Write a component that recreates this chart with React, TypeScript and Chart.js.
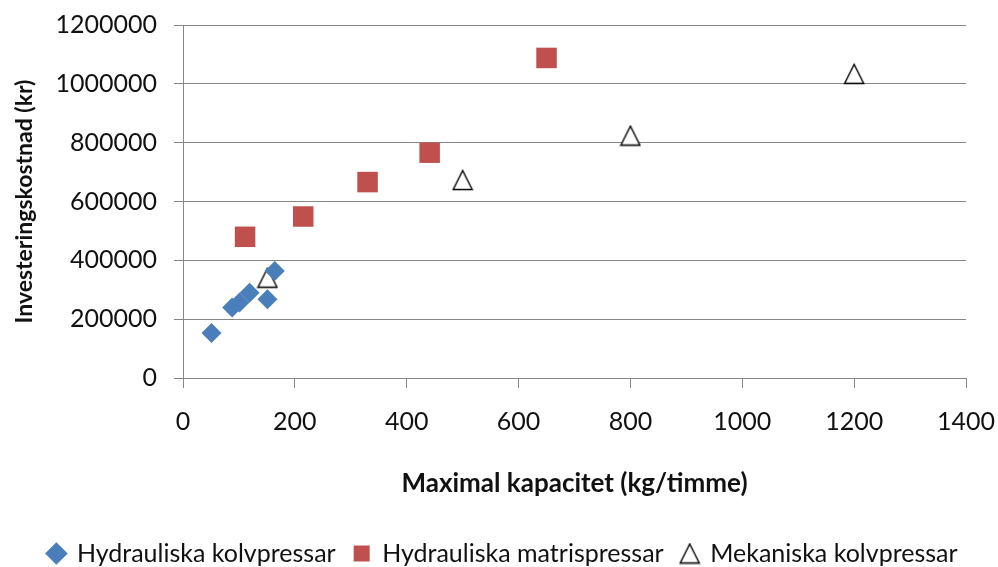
import React, { useEffect, useRef } from "react";
import { Chart, registerables } from "chart.js";

Chart.register(...registerables);

const hydrKolvX = [51, 88, 101, 119, 151, 164];
const hydrKolvY = [153000, 240000, 257000, 290000, 268000, 364000];
const hydrMatrisX = [111, 215, 330, 441, 650];
const hydrMatrisY = [480000, 549000, 666000, 766000, 1088000];
const mekKolvX = [151, 500, 800, 1200];
const mekKolvY = [341000, 673000, 824000, 1034000];

const seriesNames = ["Hydrauliska kolvpressar", "Hydrauliska matrispressar", "Mekaniska kolvpressar"];
const xTitle = "Maximal kapacitet (kg/timme)";
const yTitle = "Investeringskostnad (kr)";

const FONT = "Lato";
const W = 998;
const H = 580;

function pts(xs: number[], ys: number[]) {
  return xs.map((x, i) => ({ x, y: ys[i] }));
}

function triangleImage(size: number) {
  const c = document.createElement("canvas");
  c.width = size;
  c.height = size;
  const g = c.getContext("2d")!;
  const m = 1.5;
  g.beginPath();
  g.moveTo(size / 2, m);
  g.lineTo(size - m, size - m);
  g.lineTo(m, size - m);
  g.closePath();
  g.fillStyle = "#ffffff";
  g.fill();
  g.lineWidth = 1.4;
  g.lineJoin = "miter";
  g.strokeStyle = "#000000";
  g.stroke();
  return c;
}

export default function App() {
  const ref = useRef<HTMLCanvasElement>(null);
  useEffect(() => {
    const canvas = ref.current!;
    const tri = triangleImage(22);
    const chart = new Chart(canvas, {
      type: "scatter",
      data: {
        datasets: [
          {
            label: seriesNames[0],
            data: pts(hydrKolvX, hydrKolvY),
            pointStyle: "rectRot",
            pointRadius: 10,
            backgroundColor: "#4A7EBB",
            borderColor: "#4A7EBB",
            borderWidth: 0,
          },
          {
            label: seriesNames[1],
            data: pts(hydrMatrisX, hydrMatrisY),
            pointStyle: "rect",
            pointRadius: 14.5,
            backgroundColor: "#C0504D",
            borderColor: "#C0504D",
            borderWidth: 0,
          },
          {
            label: seriesNames[2],
            data: pts(mekKolvX, mekKolvY),
            pointStyle: tri,
            pointRadius: 11,
            backgroundColor: "#FFFFFF",
            borderColor: "#000000",
            borderWidth: 1.3,
          },
        ],
      },
      options: {
        responsive: false,
        animation: false,
        devicePixelRatio: 1,
        layout: { padding: { left: 8, right: 0, top: 25, bottom: 4 } },
        plugins: {
          tooltip: { enabled: false },
          legend: {
            position: "bottom",
            labels: {
              usePointStyle: true,
              boxWidth: 16,
              boxHeight: 16,
              padding: 18,
              color: "#111",
              font: { family: FONT, size: 25 },
            },
          },
        },
        scales: {
          x: {
            type: "linear",
            min: 0,
            max: 1400,
            afterFit: (s: any) => {
              s.height = 145;
              s.paddingLeft = 0;
              s.paddingRight = 32;
            },
            ticks: {
              stepSize: 200,
              padding: 19,
              color: "#111",
              font: { family: FONT, size: 25 },
              maxRotation: 0,
              callback: (v: any) => String(v),
            },
            grid: {
              drawOnChartArea: false,
              drawTicks: true,
              tickLength: 10,
              color: "#878787",
            },
            border: { display: true, color: "#878787", width: 1 },
            title: {
              display: true,
              text: xTitle,
              color: "#111",
              font: { family: FONT, size: 26, weight: "bold" },
              padding: { top: 0, bottom: 24 },
            },
          },
          y: {
            type: "linear",
            min: 0,
            max: 1200000,
            afterFit: (s: any) => {
              s.width = 175;
              s.paddingTop = 0;
              s.paddingBottom = 0;
            },
            ticks: {
              stepSize: 200000,
              padding: 17,
              color: "#111",
              font: { family: FONT, size: 25 },
              callback: (v: any) => String(v),
            },
            grid: {
              drawTicks: true,
              tickLength: 9,
              color: "#878787",
            },
            border: { display: true, color: "#878787", width: 1 },
            title: {
              display: true,
              text: yTitle,
              color: "#111",
              font: { family: FONT, size: 23, weight: "bold" },
              padding: { top: 3, bottom: 0 },
            },
          },
        },
      },
    });
    return () => chart.destroy();
  }, []);
  return (
    <div style={{ position: "fixed", left: 0, top: 0, width: W, height: 567, overflow: "hidden", background: "#fff" }}>
      <canvas ref={ref} width={W} height={H} style={{ display: "block" }} />
    </div>
  );
}
